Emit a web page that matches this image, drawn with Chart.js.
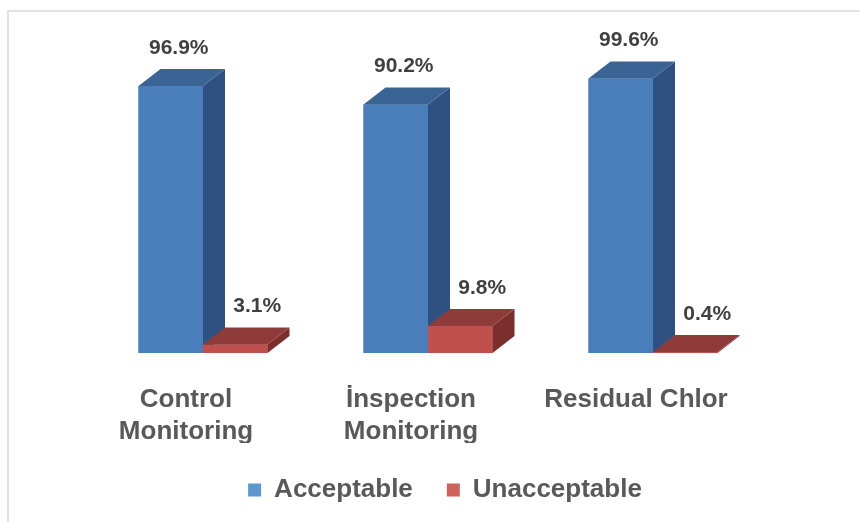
<!DOCTYPE html>
<html>
<head>
<meta charset="utf-8">
<script src="https://cdn.jsdelivr.net/npm/chart.js@4.4.0/dist/chart.umd.min.js"></script>
<style>
  html, body { margin: 0; padding: 0; background: #fff; }
  #wrap { position: relative; width: 860px; height: 522px; overflow: hidden; }
  #frame { position: absolute; left: 7px; top: 10px; right: -10px; bottom: -10px;
           border-top: 2px solid #e2e2e2; border-left: 2px solid #e2e2e2; }
  canvas { position: absolute; left: 0; top: 0; }
</style>
</head>
<body>
<div id="wrap">
  <div id="frame"></div>
  <canvas id="chart" width="860" height="522"></canvas>
</div>
<script>
const categories = [['Control', 'Monitoring'], ['İnspection', 'Monitoring'], 'Residual Chlor'];
const seriesNames = ['Acceptable', 'Unacceptable'];
const acceptable = [96.9, 90.2, 99.6];
const unacceptable = [3.1, 9.8, 0.4];

// front / top / side faces, plus the legend key colour
const palette = [
    { front: '#4a7ebb', top: '#3a6493', side: '#2f5181', key: '#5b97d1' },
    { front: '#c0504d', top: '#8f3b39', side: '#7b2e2c', key: '#d0625c' }
];
const DEPTH_X = 22, DEPTH_Y = -17;
const LABEL_SHIFT = [8, 22];
const FONT = 'Liberation Sans, Arial, sans-serif';

// fake 3D: redraw each bar with a top and a side face, category by category
const bars3d = {
    id: 'bars3d',
    afterDatasetsDraw(chart) {
        const ctx = chart.ctx;
        const metas = chart.data.datasets.map((d, i) => chart.getDatasetMeta(i));
        ctx.save();
        for (let j = 0; j < chart.data.labels.length; j++) {
            metas.forEach((meta, i) => {
                const bar = meta.data[j];
                const c = palette[i];
                const x0 = bar.x - bar.width / 2, x1 = bar.x + bar.width / 2;
                const top = bar.y, base = bar.base;

                ctx.fillStyle = c.front;
                ctx.fillRect(x0, top, x1 - x0, base - top);

                ctx.fillStyle = c.side;
                ctx.beginPath();
                ctx.moveTo(x1, top);
                ctx.lineTo(x1 + DEPTH_X, top + DEPTH_Y);
                ctx.lineTo(x1 + DEPTH_X, base + DEPTH_Y);
                ctx.lineTo(x1, base);
                ctx.closePath();
                ctx.fill();

                ctx.fillStyle = c.top;
                ctx.beginPath();
                ctx.moveTo(x0, top);
                ctx.lineTo(x0 + DEPTH_X, top + DEPTH_Y);
                ctx.lineTo(x1 + DEPTH_X, top + DEPTH_Y);
                ctx.lineTo(x1, top);
                ctx.closePath();
                ctx.fill();
            });
        }

        // value labels
        ctx.font = 'bold 21px ' + FONT;
        ctx.fillStyle = '#404040';
        ctx.textAlign = 'center';
        ctx.textBaseline = 'middle';
        metas.forEach((meta, i) => {
            const values = chart.data.datasets[i].data;
            meta.data.forEach((bar, j) => {
                ctx.fillText(values[j].toFixed(1) + '%', bar.x + LABEL_SHIFT[i], bar.y - 38);
            });
        });
        ctx.restore();
    }
};

new Chart(document.getElementById('chart'), {
    type: 'bar',
    data: {
        labels: categories,
        datasets: [
            { label: seriesNames[0], data: acceptable, backgroundColor: palette[0].front },
            { label: seriesNames[1], data: unacceptable, backgroundColor: palette[1].front }
        ]
    },
    options: {
        responsive: false,
        animation: false,
        devicePixelRatio: 1,
        categoryPercentage: 0.5733,
        barPercentage: 1,
        layout: { padding: { left: 90.5, right: 60.5, top: 77.5, bottom: 9 } },
        scales: {
            x: {
                grid: { display: false, drawTicks: false },
                border: { display: false },
                ticks: {
                    color: '#595959',
                    font: { family: FONT, size: 26, weight: 'bold', lineHeight: 1.23 },
                    padding: 31,
                    labelOffset: -17,
                    maxRotation: 0,
                    autoSkip: false
                },
                afterFit: s => { s.height = 90; }
            },
            y: {
                position: 'right',
                min: 0,
                max: 100,
                grid: { display: false, drawTicks: false },
                border: { display: false },
                ticks: { display: false },
                afterFit: s => { s.width = 34; }
            }
        },
        plugins: {
            legend: {
                position: 'bottom',
                labels: {
                    boxWidth: 13,
                    boxHeight: 13,
                    padding: 34,
                    color: '#595959',
                    font: { family: FONT, size: 26, weight: 'bold' },
                    generateLabels: chart => Chart.defaults.plugins.legend.labels.generateLabels(chart)
                        .map((l, i) => Object.assign(l, { fillStyle: palette[i].key, strokeStyle: palette[i].key, lineWidth: 0 }))
                }
            },
            tooltip: { enabled: false }
        }
    },
    plugins: [bars3d]
});
</script>
</body>
</html>
